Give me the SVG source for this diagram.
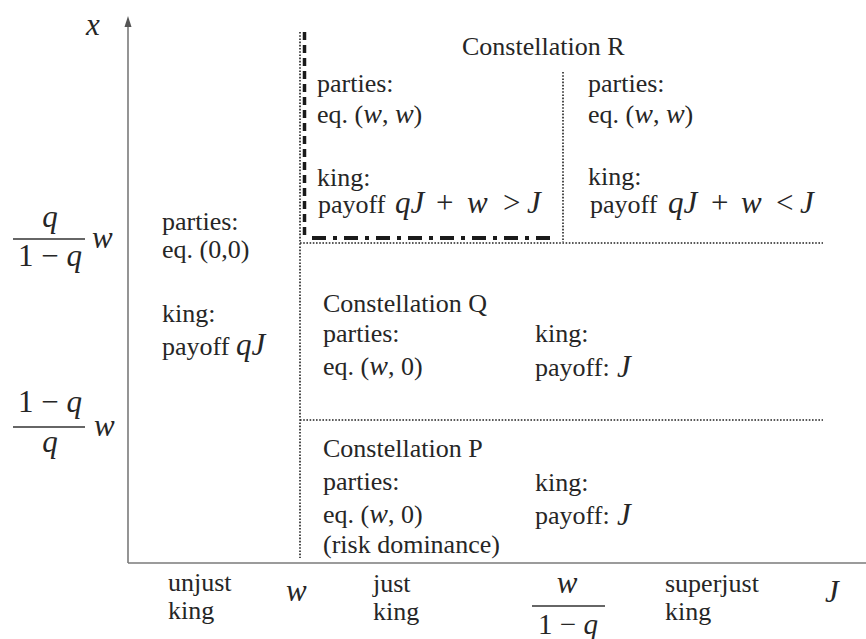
<svg xmlns="http://www.w3.org/2000/svg" width="866" height="639" viewBox="0 0 866 639">
<style>
  text { font-family: 'Liberation Serif', Tinos, 'DejaVu Serif', serif; font-size: 26px; fill: #262626; }
  .m { font-style: italic; font-size: 31px; }
  .op { font-size: 31px; }
  .dot { stroke: #222; stroke-width: 1.6; stroke-dasharray: 1.6 1.6; fill: none; }
  .axis { stroke: #7a7a7a; stroke-width: 1.6; fill: none; }
  .thick { stroke: #1a1a1a; stroke-width: 3.5; stroke-dasharray: 8 5; fill: none; }
  .dashdot { stroke: #1a1a1a; stroke-width: 4; stroke-dasharray: 14 7 4 7; fill: none; }
  .frac { stroke: #333; stroke-width: 1.6; }
</style>
<rect width="866" height="639" fill="#fff"/>

<g id="connectors">
  <line class="axis" x1="128" y1="563" x2="128" y2="24"/>
  <polygon points="128,16 124.5,27 131.5,27" fill="#555"/>
  <line class="axis" x1="128" y1="563" x2="866" y2="563"/>
  <line class="dot" x1="300" y1="32" x2="300" y2="558"/>
  <line class="dot" x1="563" y1="72" x2="563" y2="242"/>
  <line class="dot" x1="300" y1="243" x2="823" y2="243"/>
  <line class="dot" x1="300" y1="420" x2="823" y2="420"/>
  <line class="thick" x1="304.5" y1="32" x2="304.5" y2="238"/>
  <line class="dashdot" x1="312" y1="238" x2="552" y2="238"/>
</g>

<g id="y-axis-labels">
  <text class="m" x="86" y="35">x</text>
  <text class="m" x="50" y="227" text-anchor="middle">q</text>
  <line class="frac" x1="13" y1="239" x2="85" y2="239"/>
  <text class="op" x="50" y="266" text-anchor="middle">1 − <tspan class="m">q</tspan></text>
  <text class="m" x="92" y="248">w</text>
  <text class="op" x="50" y="412" text-anchor="middle">1 − <tspan class="m">q</tspan></text>
  <line class="frac" x1="13" y1="427" x2="85" y2="427"/>
  <text class="m" x="50" y="452" text-anchor="middle">q</text>
  <text class="m" x="94" y="436">w</text>
</g>

<g id="region-unjust">
  <text x="162" y="230">parties:</text>
  <text x="162" y="258">eq. (0,0)</text>
  <text x="162" y="322">king:</text>
  <text x="162" y="355">payoff</text>
  <text class="m" x="236" y="355">qJ</text>
</g>

<g id="constellation-R">
  <text x="462" y="55">Constellation R</text>
</g>

<g id="region-R-left">
  <text x="317" y="92">parties:</text>
  <text x="317" y="123">eq. (<tspan class="m" style="font-size:28px">w</tspan>, <tspan class="m" style="font-size:28px">w</tspan>)</text>
  <text x="317" y="186">king:</text>
  <text x="318" y="213">payoff</text>
  <text class="m" x="395" y="213">qJ</text>
  <text class="op" x="436" y="213">+</text>
  <text class="m" x="467" y="213">w</text>
  <text class="op" x="503" y="213">&gt;</text>
  <text class="m" x="527" y="213">J</text>
</g>

<g id="region-R-right">
  <text x="588" y="92">parties:</text>
  <text x="588" y="123">eq. (<tspan class="m" style="font-size:28px">w</tspan>, <tspan class="m" style="font-size:28px">w</tspan>)</text>
  <text x="588" y="185">king:</text>
  <text x="590" y="213">payoff</text>
  <text class="m" x="668" y="213">qJ</text>
  <text class="op" x="711" y="213">+</text>
  <text class="m" x="741" y="213">w</text>
  <text class="op" x="776" y="213">&lt;</text>
  <text class="m" x="800" y="213">J</text>
</g>

<g id="constellation-Q">
  <text x="323" y="312">Constellation Q</text>
  <text x="323" y="342">parties:</text>
  <text x="323" y="375">eq. (<tspan class="m" style="font-size:28px">w</tspan>, 0)</text>
  <text x="535" y="342">king:</text>
  <text x="535" y="376">payoff:</text>
  <text class="m" x="617" y="377">J</text>
</g>

<g id="constellation-P">
  <text x="323" y="457">Constellation P</text>
  <text x="323" y="490">parties:</text>
  <text x="323" y="523">eq. (<tspan class="m" style="font-size:28px">w</tspan>, 0)</text>
  <text x="323" y="553">(risk dominance)</text>
  <text x="535" y="491">king:</text>
  <text x="535" y="524">payoff:</text>
  <text class="m" x="617" y="525">J</text>
</g>

<g id="x-axis-labels">
  <text x="168" y="591">unjust</text>
  <text x="168" y="619">king</text>
  <text class="m" x="286" y="601">w</text>
  <text x="373" y="592">just</text>
  <text x="373" y="620">king</text>
  <text class="m" x="567" y="593" text-anchor="middle">w</text>
  <line class="frac" x1="532" y1="606" x2="605" y2="606"/>
  <text class="op" x="568" y="634" text-anchor="middle" style="font-size:29px">1 − <tspan class="m" style="font-size:29px">q</tspan></text>
  <text x="665" y="592">superjust</text>
  <text x="665" y="620">king</text>
  <text class="m" x="825" y="602">J</text>
</g>
</svg>
